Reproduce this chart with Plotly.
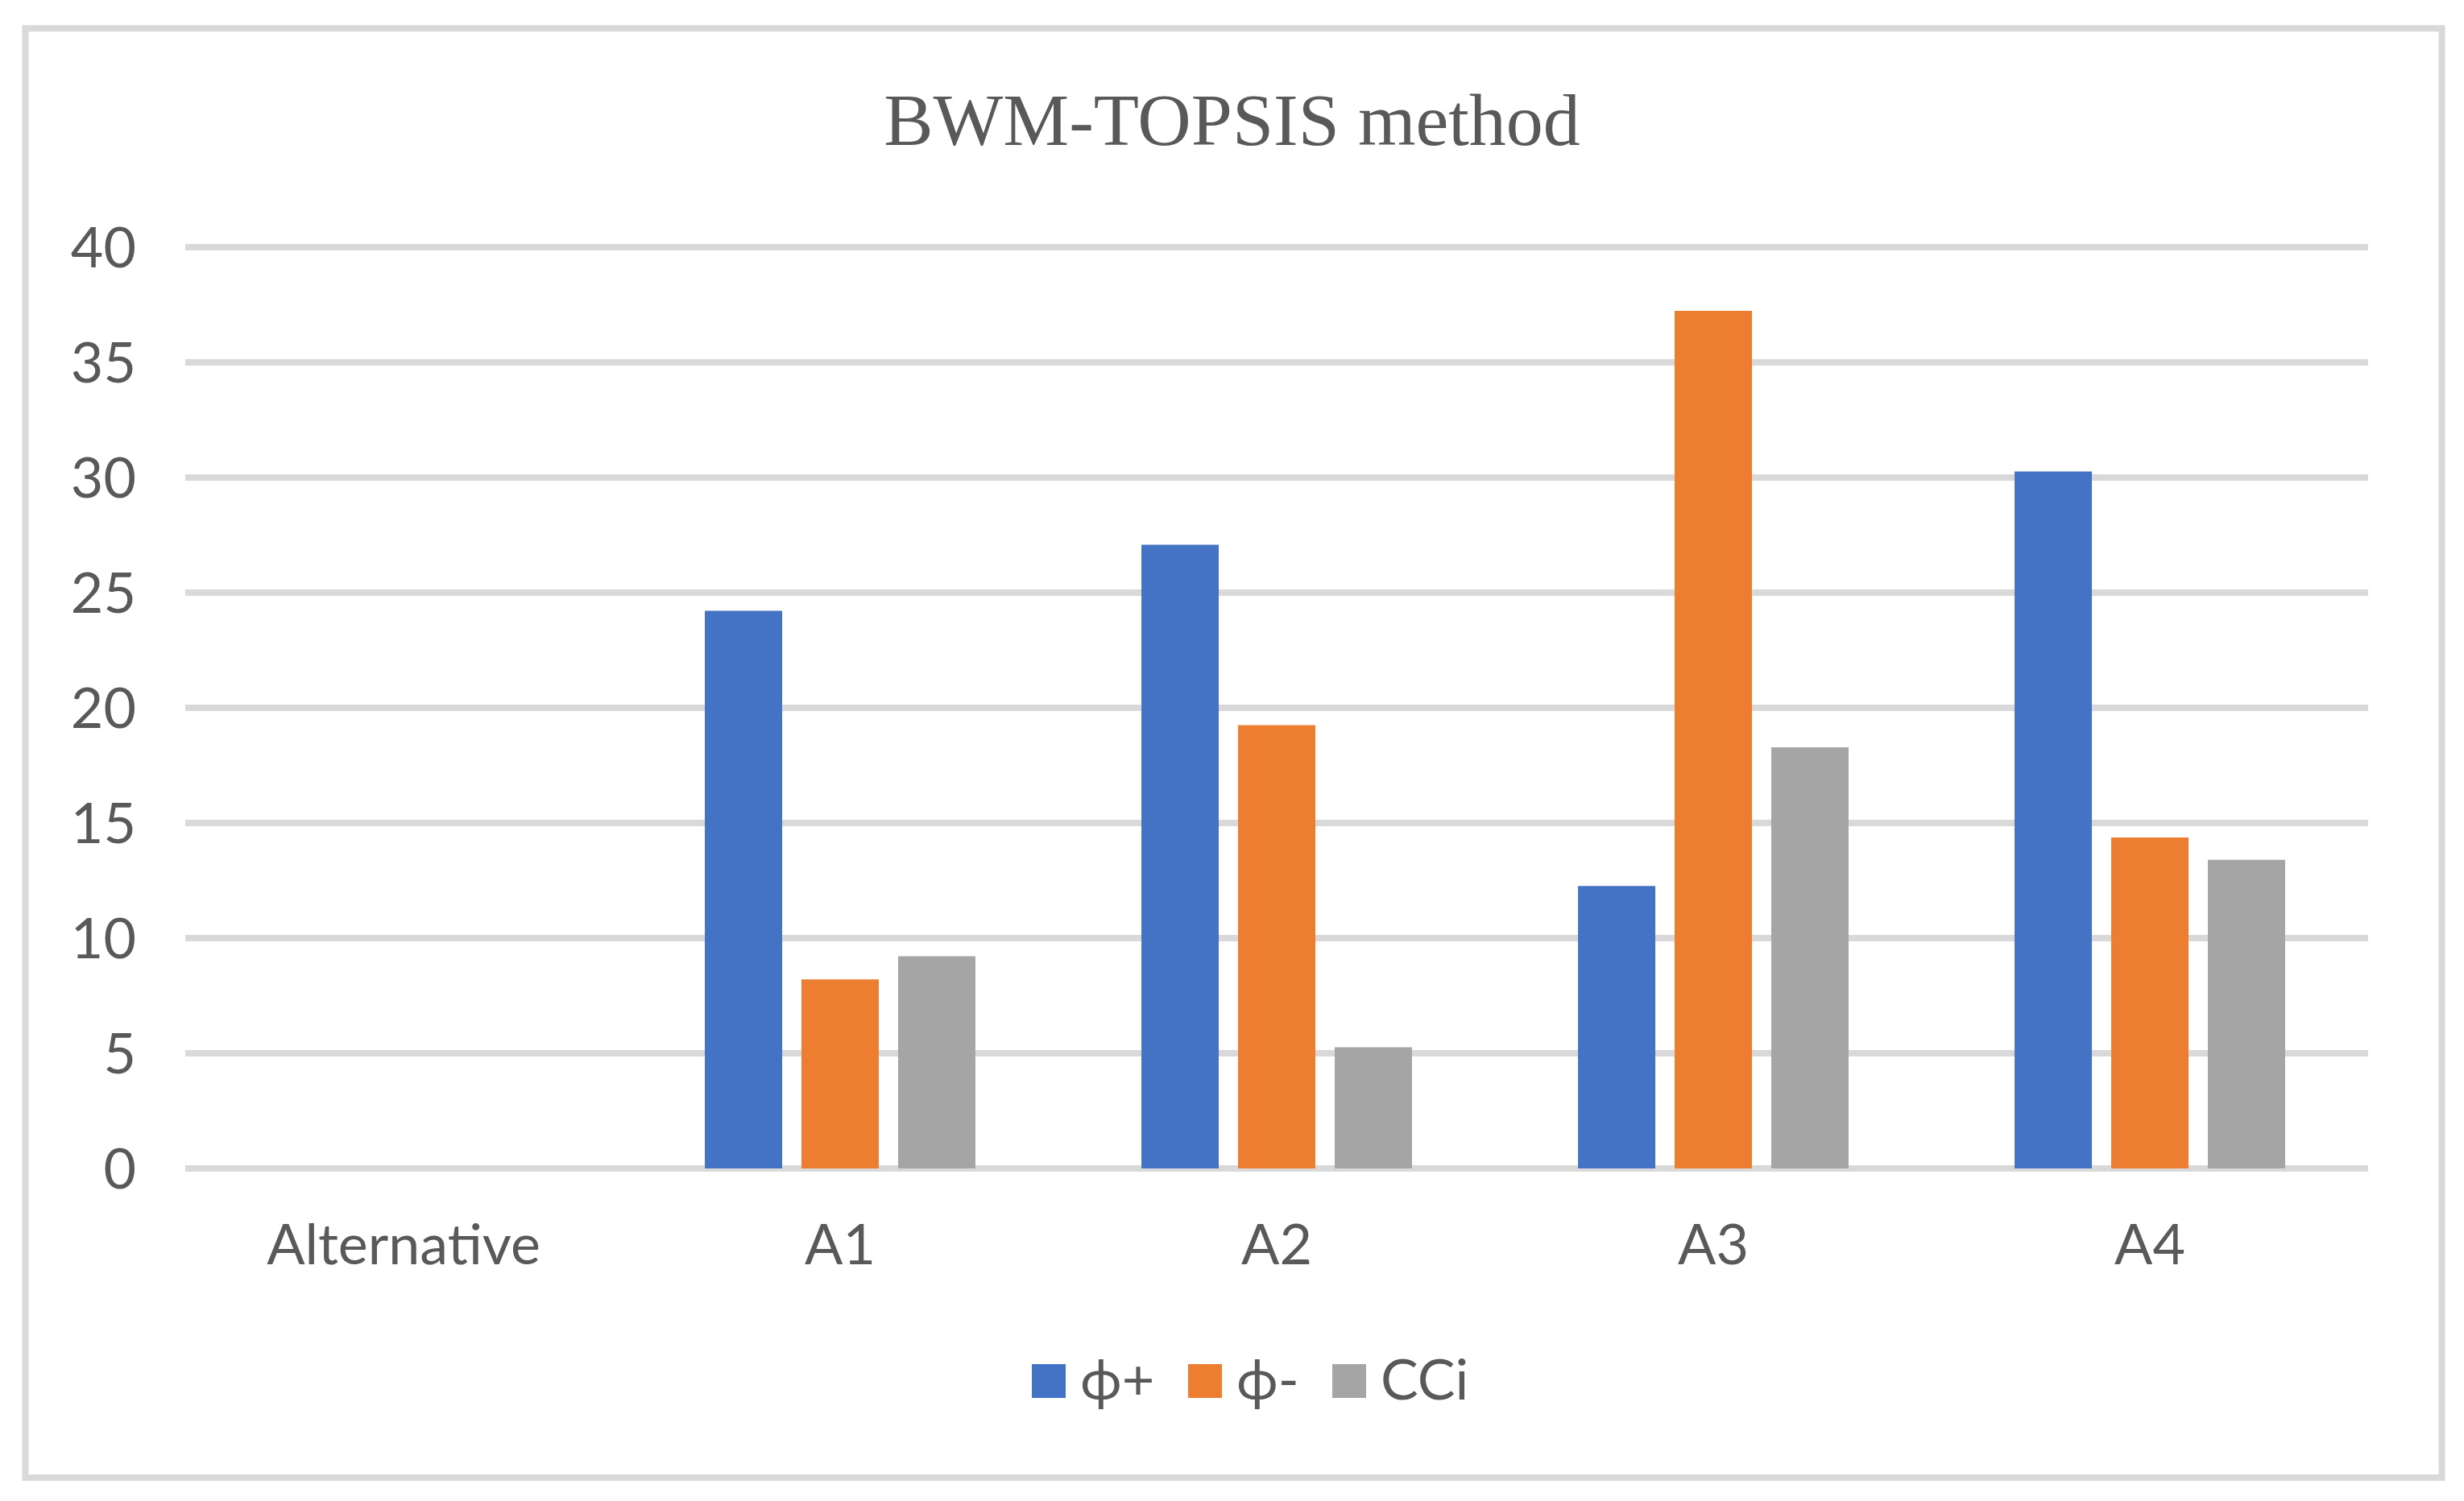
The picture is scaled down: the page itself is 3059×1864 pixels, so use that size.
import plotly.graph_objects as go

# ---- data ----
categories = ["Alternative", "A1", "A2", "A3", "A4"]
series_names = ["ϕ+", "ϕ-", "CCi"]
phi_plus = [None, 24.22, 27.09, 12.27, 30.27]
phi_minus = [None, 8.21, 19.25, 37.25, 14.37]
cci = [None, 9.22, 5.26, 18.29, 13.40]
series_colors = ["#4472C4", "#ED7D31", "#A5A5A5"]
y_ticks = [0, 5, 10, 15, 20, 25, 30, 35, 40]
title_text = "BWM-TOPSIS method"

# page has an 8px body margin; compensate so marks land at the reference pixel positions
OFF = 8
PW, PH = 3059, 1864
W, H = PW - 2 * OFF, PH - 2 * OFF
Y_TOP = 40.5
UNIT = (1451 - 307) / 40.0
TOP_PX = 1451 - UNIT * Y_TOP
L, R, T, B = 230 - OFF, 119 - OFF, TOP_PX - OFF, 413 - OFF
TXT = "#595959"
GRID = "#D9D9D9"
SANS = "Lato, 'Open Sans', sans-serif"

fig = go.Figure()
for name, vals, col in zip(series_names, [phi_plus, phi_minus, cci], series_colors):
    fig.add_trace(go.Bar(x=categories, y=vals, name=name, marker=dict(color=col, line=dict(width=0)),
                         showlegend=False))

pw = W - L - R
ph = H - T - B
def px2x(px):
    return (px - OFF - L) / pw
def py2y(py):
    return 1 - (py - OFF - T) / ph

shapes = []
annotations = []
# outer chart border
shapes.append(dict(type="rect", xref="paper", yref="paper",
                   x0=px2x(31.5), x1=px2x(3031.5), y0=py2y(35), y1=py2y(1835),
                   line=dict(color=GRID, width=8), fillcolor="rgba(0,0,0,0)", layer="below"))

# manual legend (large square swatches)
sw_x = [1281, 1475, 1654]
txt_x = [1343, 1537, 1716]
leg_top, leg_bot = 1694, 1736
for i, (name, col) in enumerate(zip(series_names, series_colors)):
    shapes.append(dict(type="rect", xref="paper", yref="paper",
                       x0=px2x(sw_x[i]), x1=px2x(sw_x[i] + 42), y0=py2y(leg_bot), y1=py2y(leg_top),
                       line=dict(width=0), fillcolor=col))
    annotations.append(dict(xref="paper", yref="paper", x=px2x(txt_x[i] - 4), y=py2y(1711),
                            xanchor="left", yanchor="middle", text=name, showarrow=False,
                            font=dict(family=SANS, size=70, color=TXT)))

fig.update_layout(
    width=W, height=H,
    margin=dict(l=L, r=R, t=T, b=B, autoexpand=False),
    paper_bgcolor="white", plot_bgcolor="white",
    title=dict(text=title_text, x=(PW / 2 - OFF) / W, xanchor="center", xref="container",
               y=1 - (148 - OFF) / H, yref="container", yanchor="middle",
               font=dict(family="'Liberation Serif', 'Times New Roman', serif", size=92, color=TXT)),
    bargap=0.336, bargroupgap=0.2, barmode="group",
    xaxis=dict(type="category", showgrid=False, showline=False, zeroline=False, ticks="",
               tickfont=dict(family=SANS, size=70, color=TXT), ticklabelstandoff=48),
    yaxis=dict(range=[0, Y_TOP], tickvals=y_ticks, ticktext=[str(v) for v in y_ticks],
               showgrid=True, gridcolor=GRID, gridwidth=8, zeroline=True, zerolinecolor=GRID,
               zerolinewidth=8, showline=False, ticks="",
               tickfont=dict(family=SANS, size=70, color=TXT), ticklabelstandoff=60),
    shapes=shapes, annotations=annotations,
)

fig.write_html("out.html")
